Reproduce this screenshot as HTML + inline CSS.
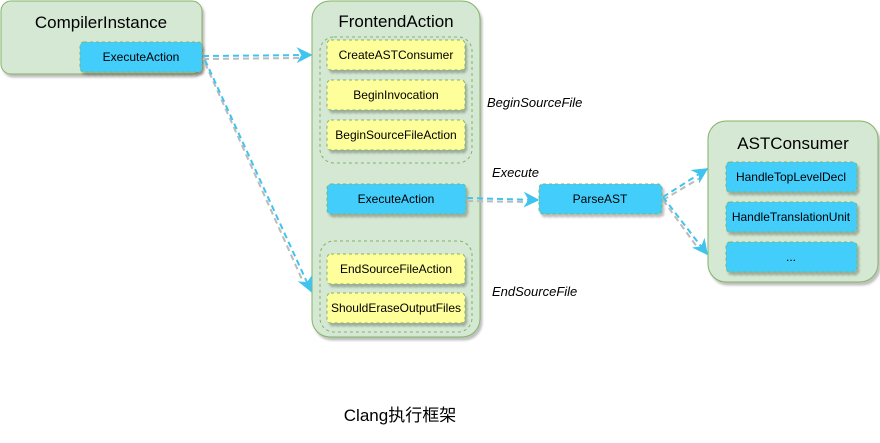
<!DOCTYPE html>
<html><head><meta charset="utf-8"><style>body{margin:0;background:#fff}</style></head><body>
<svg width="880" height="438" xmlns="http://www.w3.org/2000/svg" font-family="Liberation Sans, Noto Sans CJK SC, sans-serif">
<defs>
<filter id="s" x="-10%" y="-10%" width="130%" height="140%"><feDropShadow dx="2" dy="3" stdDeviation="1" flood-color="#000" flood-opacity="0.25"/></filter>
<marker id="a" viewBox="0 0 10 10" refX="9" refY="5" markerWidth="8" markerHeight="8" orient="auto"><path d="M0,0 L10,5 L0,10 L3,5z" fill="#40c4ee"/></marker>
</defs>
<g filter="url(#s)">
<rect x="1" y="1" width="201" height="73" rx="10" fill="#d5e8d4" stroke="#82b366"/>
<rect x="312" y="1" width="168" height="336" rx="18" fill="#d5e8d4" stroke="#82b366"/>
<rect x="708" y="121" width="170" height="161" rx="18" fill="#d5e8d4" stroke="#82b366"/>
</g>
<text x="101" y="28" font-size="17" text-anchor="middle">CompilerInstance</text>
<text x="396" y="27" font-size="17" text-anchor="middle">FrontendAction</text>
<text x="793" y="149" font-size="17" text-anchor="middle">ASTConsumer</text>
<rect x="320" y="37" width="152" height="126" rx="14" fill="none" stroke="#82b366" stroke-dasharray="3 3"/>
<rect x="320" y="241" width="152" height="91" rx="14" fill="none" stroke="#82b366" stroke-dasharray="3 3"/>
<g filter="url(#s)" stroke="#82b366" stroke-dasharray="3 3">
<rect x="80" y="42" width="122" height="30" rx="4" fill="#42cdfb"/>
<rect x="327" y="40" width="138" height="30" rx="4" fill="#fefe9a"/>
<rect x="327" y="80" width="138" height="30" rx="4" fill="#fefe9a"/>
<rect x="327" y="120" width="138" height="30" rx="4" fill="#fefe9a"/>
<rect x="327" y="184" width="139" height="30" rx="4" fill="#42cdfb"/>
<rect x="327" y="254" width="138" height="30" rx="4" fill="#fefe9a"/>
<rect x="327" y="293" width="138" height="30" rx="4" fill="#fefe9a"/>
<rect x="539" y="184" width="123" height="30" rx="4" fill="#42cdfb"/>
<rect x="726" y="162" width="131" height="30" rx="4" fill="#42cdfb"/>
<rect x="726" y="202" width="131" height="30" rx="4" fill="#42cdfb"/>
<rect x="726" y="242" width="131" height="30" rx="4" fill="#42cdfb"/>
</g>
<g font-size="12" text-anchor="middle">
<text x="141" y="61">ExecuteAction</text>
<text x="396" y="59">CreateASTConsumer</text>
<text x="396" y="99">BeginInvocation</text>
<text x="396" y="139">BeginSourceFileAction</text>
<text x="396" y="203">ExecuteAction</text>
<text x="396" y="273">EndSourceFileAction</text>
<text x="396" y="312">ShouldEraseOutputFiles</text>
<text x="600" y="203">ParseAST</text>
<text x="791" y="181">HandleTopLevelDecl</text>
<text x="791" y="221">HandleTranslationUnit</text>
<text x="791" y="261">...</text>
</g>
<g font-size="13" font-style="italic">
<text x="487" y="107">BeginSourceFile</text>
<text x="492" y="177">Execute</text>
<text x="492" y="296">EndSourceFile</text>
</g>
<g fill="none" stroke="#bbb" stroke-width="2" stroke-dasharray="6 4" transform="translate(0,3)">
<path d="M203 56 L300 55"/><path d="M205 60 L305 283"/><path d="M467 198 L530 199"/><path d="M663 197 L700 175"/><path d="M663 197 L700 248"/>
</g>
<g fill="none" stroke="#40c4ee" stroke-width="2" stroke-dasharray="6 4">
<path d="M203 56 L311 55" marker-end="url(#a)"/>
<path d="M205 60 L311 291" marker-end="url(#a)"/>
<path d="M467 198 L538 200" marker-end="url(#a)"/>
<path d="M663 197 L707 169" marker-end="url(#a)"/>
<path d="M663 197 L707 254" marker-end="url(#a)"/>
</g>
<text x="400" y="421" font-size="17" text-anchor="middle">Clang执行框架</text>
</svg>
</body></html>
